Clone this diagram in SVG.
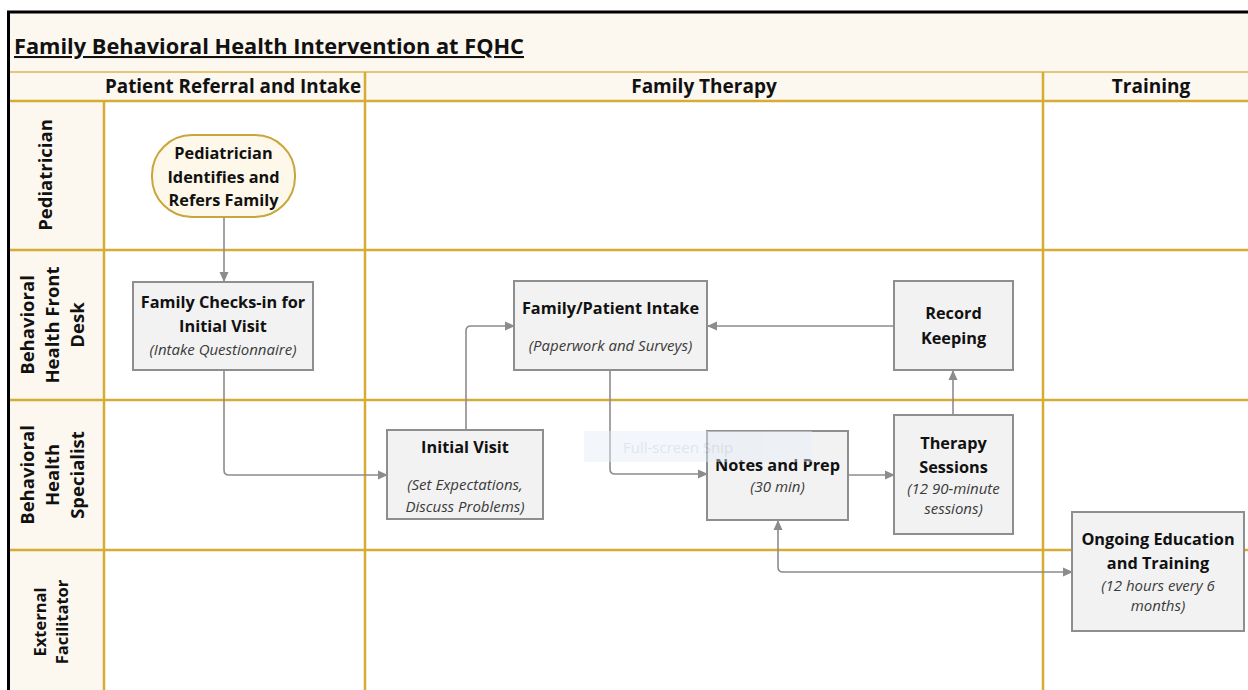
<svg xmlns="http://www.w3.org/2000/svg" width="1248" height="690" viewBox="0 0 1248 690">
<defs>
<style>
.cream{fill:#FCF7EF}
.gold{stroke:#D6AC35;stroke-width:2.5;fill:none}
.goldt{stroke:#DDB650;stroke-width:1.5;fill:none}
.hdr{font-family:"Open Sans","Liberation Sans",sans-serif;font-weight:700;font-size:19px;fill:#111;text-anchor:middle}
.lane{font-family:"Open Sans","Liberation Sans",sans-serif;font-weight:700;font-size:18.5px;fill:#111;text-anchor:middle}
.box{fill:#F2F2F2;stroke:#8E8E8E;stroke-width:2}
.term{fill:#FEF8EA;stroke:#C9A53D;stroke-width:2}
.b{font-family:"Open Sans","Liberation Sans",sans-serif;font-weight:700;font-size:16.3px;fill:#111;text-anchor:middle}
.i{font-family:"Open Sans","Liberation Sans",sans-serif;font-style:italic;font-size:15px;fill:#3a3a3a;text-anchor:middle}
.conn{stroke:#8C8C8C;stroke-width:1.6;fill:none}
</style>
<marker id="ah" viewBox="0 0 10 10" refX="9" refY="5" markerWidth="10" markerHeight="10" markerUnits="userSpaceOnUse" orient="auto-start-reverse">
<path d="M0,0.5 L10,5 L0,9.5 z" fill="#8C8C8C"/>
</marker>
</defs>

<rect x="0" y="0" width="1248" height="690" fill="#FFFFFF"/>
<!-- backgrounds -->
<rect class="cream" x="9" y="12" width="1239" height="89"/>
<rect class="cream" x="9" y="101" width="95" height="589"/>

<!-- grid -->
<g id="grid">
<line class="goldt" x1="9" y1="72" x2="1248" y2="72"/>
<line class="gold" x1="9" y1="101" x2="1248" y2="101"/>
<line class="gold" x1="9" y1="250" x2="1248" y2="250"/>
<line class="gold" x1="9" y1="400" x2="1248" y2="400"/>
<line class="gold" x1="9" y1="550" x2="1248" y2="550"/>
<line class="gold" x1="104" y1="101" x2="104" y2="690"/>
<line class="gold" x1="365" y1="72" x2="365" y2="690"/>
<line class="gold" x1="1043" y1="72" x2="1043" y2="690"/>
</g>

<!-- frame -->
<line x1="7" y1="12" x2="1248" y2="12" stroke="#000" stroke-width="3"/>
<line x1="8.5" y1="11" x2="8.5" y2="690" stroke="#000" stroke-width="3"/>

<!-- title -->
<g id="title">
<text x="14" y="54" font-family="Open Sans, Liberation Sans, sans-serif" font-weight="700" font-size="20.5" fill="#111" text-decoration="underline" textLength="510" lengthAdjust="spacingAndGlyphs">Family Behavioral Health Intervention at FQHC</text>
</g>

<!-- column headers -->
<g id="col-headers">
<text class="hdr" x="233" y="93" textLength="256" lengthAdjust="spacingAndGlyphs">Patient Referral and Intake</text>
<text class="hdr" x="704" y="93">Family Therapy</text>
<text class="hdr" x="1151" y="93">Training</text>
</g>

<!-- lane labels -->
<g id="lane-labels">
<text class="lane" transform="translate(52,175) rotate(-90)">Pediatrician</text>
<text class="lane" transform="translate(34,325) rotate(-90)">Behavioral</text>
<text class="lane" transform="translate(59,325) rotate(-90)">Health Front</text>
<text class="lane" transform="translate(84,325) rotate(-90)">Desk</text>
<text class="lane" transform="translate(34,475) rotate(-90)">Behavioral</text>
<text class="lane" transform="translate(59,475) rotate(-90)">Health</text>
<text class="lane" transform="translate(84,475) rotate(-90)">Specialist</text>
<text class="lane" style="font-size:16.5px" transform="translate(46,622) rotate(-90)">External</text>
<text class="lane" style="font-size:16.5px" transform="translate(68,622) rotate(-90)">Facilitator</text>
</g>

<!-- connectors -->
<g id="connectors">
<path class="conn" d="M224,217 V281" marker-end="url(#ah)"/>
<path class="conn" d="M224,370 V470 Q224,475 229,475 H387" marker-end="url(#ah)"/>
<path class="conn" d="M466,430 V331 Q466,326 471,326 H514" marker-end="url(#ah)"/>
<path class="conn" d="M894,326 H708" marker-end="url(#ah)"/>
<path class="conn" d="M610,370 V469 Q610,474 615,474 H707" marker-end="url(#ah)"/>
<path class="conn" d="M848,475 H894" marker-end="url(#ah)"/>
<path class="conn" d="M953,415 V371" marker-end="url(#ah)"/>
<path class="conn" d="M778,521 V567 Q778,572 783,572 H1072" marker-start="url(#ah)" marker-end="url(#ah)"/>
</g>

<!-- nodes -->
<g id="node-pediatrician">
<rect class="term" x="152" y="135" width="143" height="82" rx="40" ry="40"/>
<text class="b" x="223.5" y="159">Pediatrician</text>
<text class="b" x="223.5" y="183">Identifies and</text>
<text class="b" x="223.5" y="206">Refers Family</text>
</g>

<g id="node-checkin">
<rect class="box" x="133" y="282" width="180" height="88"/>
<text class="b" x="223" y="308">Family Checks-in for</text>
<text class="b" x="223" y="332">Initial Visit</text>
<text class="i" x="223" y="355">(Intake Questionnaire)</text>
</g>

<g id="node-intake">
<rect class="box" x="514" y="281" width="193" height="89"/>
<text class="b" x="610.5" y="314">Family/Patient Intake</text>
<text class="i" x="610.5" y="351">(Paperwork and Surveys)</text>
</g>

<g id="node-record">
<rect class="box" x="894" y="281" width="119" height="89"/>
<text class="b" x="953.5" y="319">Record</text>
<text class="b" x="953.5" y="344">Keeping</text>
</g>

<g id="node-initial">
<rect class="box" x="387" y="430" width="156" height="89"/>
<text class="b" x="465" y="453">Initial Visit</text>
<text class="i" x="465" y="490">(Set Expectations,</text>
<text class="i" x="465" y="512">Discuss Problems)</text>
</g>

<g id="node-notes">
<rect class="box" x="707" y="431" width="141" height="89"/>
<text class="b" x="777.5" y="471">Notes and Prep</text>
<text class="i" x="777.5" y="492">(30 min)</text>
</g>

<g id="node-therapy">
<rect class="box" x="894" y="415" width="119" height="119"/>
<text class="b" x="953.5" y="449">Therapy</text>
<text class="b" x="953.5" y="473">Sessions</text>
<text class="i" x="953.5" y="494">(12 90-minute</text>
<text class="i" x="953.5" y="514">sessions)</text>
</g>

<g id="node-ongoing">
<rect class="box" x="1072" y="512" width="172" height="119"/>
<text class="b" x="1158" y="545">Ongoing Education</text>
<text class="b" x="1158" y="569">and Training</text>
<text class="i" x="1158" y="591">(12 hours every 6</text>
<text class="i" x="1158" y="611">months)</text>
</g>

<!-- screen-capture overlay -->
<g id="overlay" opacity="0.45">
<rect x="584" y="431" width="228" height="31" fill="#E6EEF8"/>
<text x="623" y="453" font-family="Open Sans, Liberation Sans, sans-serif" font-size="15" fill="#B9C6D8">Full-screen Snip</text>
</g>
</svg>
